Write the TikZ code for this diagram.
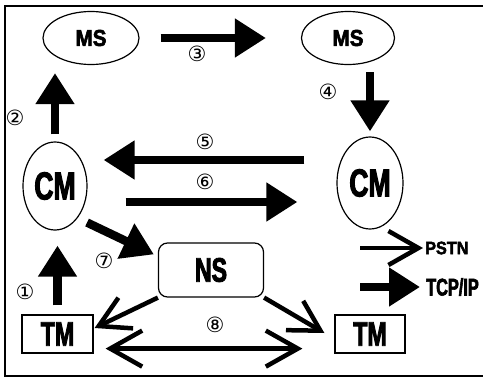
\documentclass[tikz,border=0pt]{standalone}
\usepackage{fontspec}
\usepackage{tikz}
\usetikzlibrary{arrows.meta,shapes.geometric}

\newfontfamily\condfont{Liberation Sans}[FakeStretch=0.68,FakeBold=2.5]
\newfontfamily\widefont{Liberation Sans}[FakeStretch=0.9,FakeBold=2.5]
\newfontfamily\circfont{DejaVu Sans}

\tikzset{
  ovalnode/.style={draw, ellipse, line width=1.2pt, inner sep=0pt},
  boxnode/.style={draw, rectangle, line width=1.2pt, inner sep=0pt},
  bigarrow/.style={line width=8.5pt, -{Triangle[length=31pt,width=37pt]}},
  openarrow/.style={line width=4.5pt, -{Straight Barb[length=30pt,width=34pt]}},
  dblarrow/.style={line width=4.5pt, {Straight Barb[length=32pt,width=36pt]}-{Straight Barb[length=32pt,width=36pt]}},
  numlabel/.style={font=\circfont\fontsize{21}{21}\selectfont, inner sep=0pt}
}

\begin{document}
\begin{tikzpicture}[x=1pt,y=-1pt]

  \useasboundingbox (0,0) rectangle (483,378);
  \clip (0,0) rectangle (483,378);
  % frame
  \draw[line width=2.5pt] (495,6) -- (5,6) -- (5,376) -- (495,376);

  % Mobile servers
  \node[ovalnode, minimum width=96pt, minimum height=53pt] (ms1) at (91,38)
    {\widefont\bfseries\fontsize{23}{23}\selectfont MS};
  \node[ovalnode, minimum width=93pt, minimum height=53pt] (ms2) at (348,38)
    {\widefont\bfseries\fontsize{23}{23}\selectfont MS};
  % CM
  \node[ovalnode, minimum width=64pt, minimum height=88pt] (cm1) at (55,186)
    {\condfont\bfseries\fontsize{39}{39}\selectfont CM};
  \node[ovalnode, minimum width=66pt, minimum height=92pt] (cm2) at (370,183)
    {\condfont\bfseries\fontsize{39}{39}\selectfont CM};
  % NS
  \node[boxnode, rounded corners=9pt, minimum width=105pt, minimum height=54pt] (ns) at (211,270)
    {\condfont\bfseries\fontsize{34}{34}\selectfont NS};
  % TM
  \node[boxnode, minimum width=71pt, minimum height=38pt] (tm1) at (57.5,334)
    {\condfont\bfseries\fontsize{34}{34}\selectfont TM};
  \node[boxnode, minimum width=70pt, minimum height=38pt] (tm2) at (370,334)
    {\condfont\bfseries\fontsize{34}{34}\selectfont TM};

  % steps
  \draw[bigarrow, shorten <=9pt, shorten >=15pt] (tm1.north) -- (tm1.north |- cm1.south);
  \draw[bigarrow, shorten <=7pt, shorten >=8pt] (cm1.north) -- (cm1.north |- ms1.south);
  \draw[bigarrow, shorten <=21pt, shorten >=35pt] (ms1) -- (ms2);
  \draw[bigarrow, shorten <=7pt, shorten >=5pt] (ms2.south -| cm2.north) -- (cm2.north);
  \draw[bigarrow] ([shift={(-32,-23)}]cm2.west) -- ([shift={(16,-26)}]cm1.east);
  \draw[bigarrow] ([shift={(38,16)}]cm1.east) -- ([shift={(-39,19)}]cm2.west);
  \draw[bigarrow] ([shift={(9,5)}]cm1.south east) -- ([shift={(-4,12)}]ns.north west);
  \draw[openarrow] (ns.south west) -- ([shift={(1,-6)}]tm1.east);
  \draw[openarrow] (ns.south east) -- ([shift={(-10,-1)}]tm2.west);
  \draw[dblarrow] ([shift={(12,-5)}]tm1.south east) -- ([shift={(-32,-5)}]tm2.south west);

  % step numbers
  \node[numlabel] (n1) at (25,292) {①};
  \node[numlabel] (n2) at (15,118) {②};
  \node[numlabel] (n3) at (197,54) {③};
  \node[numlabel] (n4) at (328,92) {④};
  \node[numlabel] (n5) at (205,142) {⑤};
  \node[numlabel] (n6) at (205,182) {⑥};
  \node[numlabel] (n7) at (104,261) {⑦};
  \node[numlabel] (n8) at (215,325) {⑧};

  % legend
  \coordinate (pstnin) at (360,248);
  \node[anchor=west, inner sep=0pt] (pstn) at (425,248)
    {\widefont\bfseries\fontsize{18}{18}\selectfont PSTN};
  \draw[openarrow, shorten >=2pt] (pstnin) -- (pstn.west);
  \coordinate (tcpin) at (360,287);
  \node[anchor=west, inner sep=0pt] (tcp) at (426,287)
    {\condfont\bfseries\fontsize{24}{24}\selectfont TCP/IP};
  \draw[bigarrow, shorten >=6pt] (tcpin) -- (tcp.west);
\end{tikzpicture}
\end{document}
